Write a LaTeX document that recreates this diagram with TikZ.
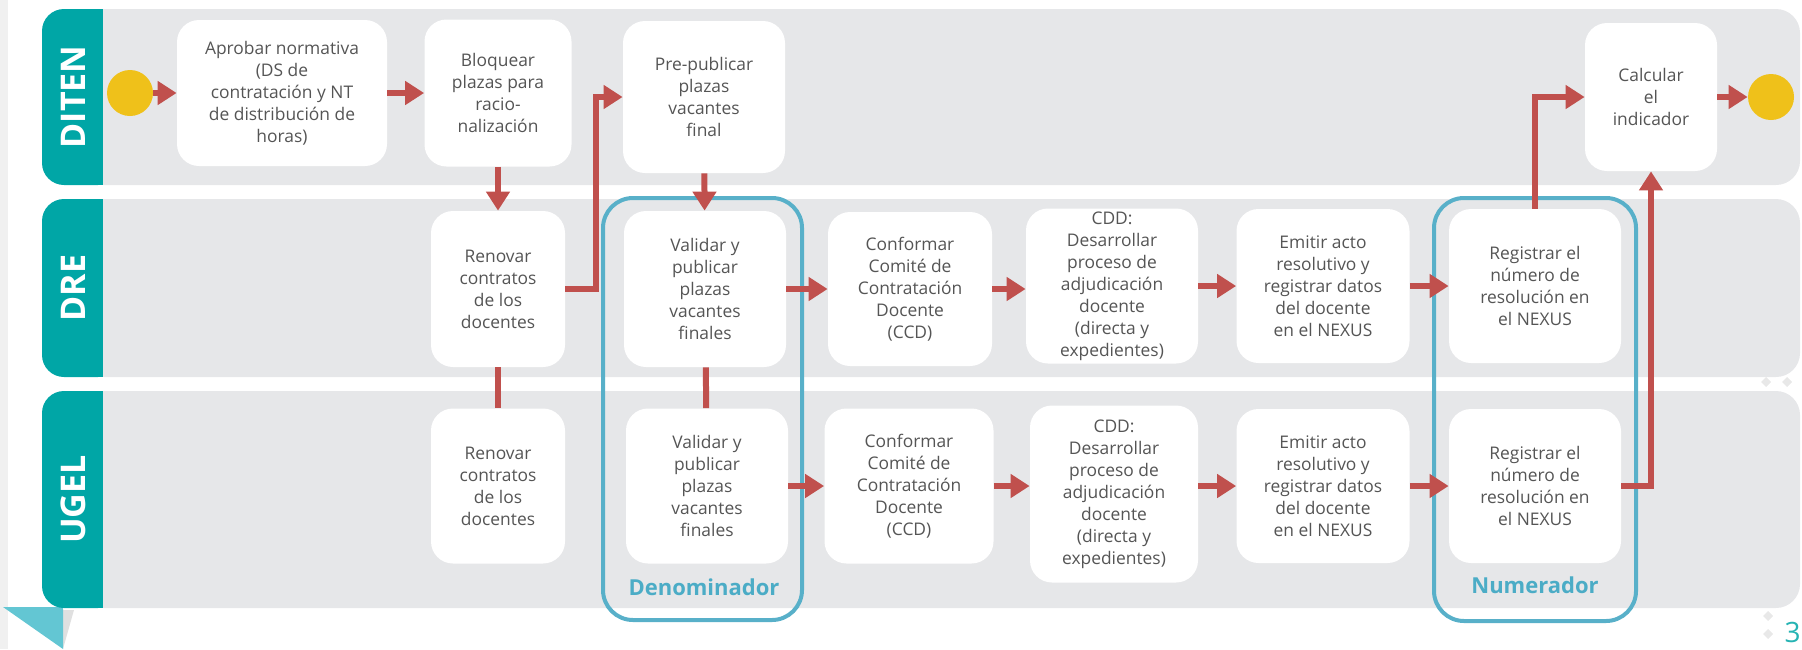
\documentclass[tikz,border=0pt]{standalone}
\usepackage{fontspec}
\setmainfont{Open Sans}
\usetikzlibrary{arrows.meta}

\definecolor{laneteal}{HTML}{00A6A6}
\definecolor{lanegray}{HTML}{E6E7E9}
\definecolor{flowred}{HTML}{C0504D}
\definecolor{frameblue}{HTML}{58B0C9}
\definecolor{labelblue}{HTML}{4BACC6}
\definecolor{textgray}{HTML}{555555}
\definecolor{eventyellow}{HTML}{EFC11A}
\definecolor{foldteal}{HTML}{63C6D3}

\begin{document}
\begin{tikzpicture}[x=0.5pt, y=-0.5pt,
    task/.style={fill=white, rounded corners=11pt, align=center, inner sep=0pt,
        text=textgray, font=\fontsize{8.7}{11}\selectfont},
    event/.style={circle, fill=eventyellow, minimum size=23pt, inner sep=0pt},
    flow/.style={draw=flowred, line width=3pt, -{Triangle[length=9.5pt,width=11.5pt]}},
    link/.style={draw=flowred, line width=3pt},
    frame/.style={draw=frameblue, line width=2pt, rounded corners=15pt},
    framelabel/.style={text=labelblue, font=\bfseries\fontsize{11}{13}\selectfont},
    lanelabel/.style={rotate=90, text=white, font=\bfseries\fontsize{17}{20}\selectfont}]
    \useasboundingbox (0,0) rectangle (1802,649);
    \fill[black!6] (0,0) rectangle (8,649);
    \fill[black!12] (63,610) -- (74,610) -- (63,649) -- cycle;
    \fill[foldteal] (3,607) -- (63,607) -- (63,649) -- cycle;
    % lanes
    \foreach \name/\top/\bot in {DITEN/9/185, DRE/199/377, UGEL/391/608} {
        \fill[lanegray, rounded corners=12pt] (80,\top) rectangle (1800,\bot);
        \fill[laneteal, rounded corners=11pt] (42,\top) rectangle (120,\bot);
        \fill[laneteal] (90,\top) rectangle (103,\bot);
        \fill[lanegray] (103,\top) rectangle (125,\bot);
        \node[lanelabel] (lane\name) at ({73},{(\top+\bot)/2}) {\name};
    }
    \foreach \sx/\sy in {1766/382, 1787/382, 1768/616, 1768/634}
        \fill[black!9] (\sx-5,\sy) -- (\sx,\sy-5) -- (\sx+5,\sy) -- (\sx,\sy+5) -- cycle;
    \node[anchor=east, inner sep=0pt, text=laneteal!85, font=\fontsize{14}{16}\selectfont] (pagina) at (1801,632) {3};

    % DITEN
    \node[event] (inicio) at (130,93) {};
    \node[task, minimum width=105pt, minimum height=73pt] (aprobar) at (282,93)
        {Aprobar normativa\\(DS de\\contratación y NT\\de distribución de\\horas)};
    \node[task, minimum width=73.5pt, minimum height=73.5pt] (bloquear) at (498,93)
        {Bloquear\\plazas para\\racio-\\nalización};
    \node[task, minimum width=81pt, minimum height=76pt] (prepub) at (704,97)
        {Pre-publicar\\plazas\\vacantes\\final};
    \node[task, minimum width=66pt, minimum height=74pt] (calcular) at (1651,97)
        {Calcular\\el\\indicador};
    \node[event] (fin) at (1771,97) {};

    % DRE
    \node[task, minimum width=67pt, minimum height=78pt] (renD) at (498,289)
        {Renovar\\contratos\\de los\\docentes};
    \node[task, minimum width=81pt, minimum height=78pt] (valD) at (705,289)
        {Validar y\\publicar\\plazas\\vacantes\\finales};
    \node[task, minimum width=82pt, minimum height=77pt] (confD) at (910,289)
        {Conformar\\Comité de\\Contratación\\Docente\\(CCD)};
    \node[task, minimum width=86pt, minimum height=77.5pt] (cddD) at (1112,286)
        {CDD:\\Desarrollar\\proceso de\\adjudicación\\docente\\(directa y\\expedientes)};
    \node[task, minimum width=86.5pt, minimum height=77pt] (emiD) at (1323,286)
        {Emitir acto\\resolutivo y\\registrar datos\\del docente\\en el NEXUS};
    \node[task, minimum width=86pt, minimum height=77pt] (regD) at (1535,286)
        {Registrar el\\número de\\resolución en\\el NEXUS};

    % UGEL
    \node[task, minimum width=67pt, minimum height=77.5pt] (renU) at (498,486)
        {Renovar\\contratos\\de los\\docentes};
    \node[task, minimum width=81pt, minimum height=77.5pt] (valU) at (707,486)
        {Validar y\\publicar\\plazas\\vacantes\\finales};
    \node[task, minimum width=84.5pt, minimum height=77.5pt] (confU) at (909,486)
        {Conformar\\Comité de\\Contratación\\Docente\\(CCD)};
    \node[task, minimum width=84pt, minimum height=88.5pt] (cddU) at (1114,494)
        {CDD:\\Desarrollar\\proceso de\\adjudicación\\docente\\(directa y\\expedientes)};
    \node[task, minimum width=86.5pt, minimum height=77pt] (emiU) at (1323,486)
        {Emitir acto\\resolutivo y\\registrar datos\\del docente\\en el NEXUS};
    \node[task, minimum width=86pt, minimum height=77pt] (regU) at (1535,486)
        {Registrar el\\número de\\resolución en\\el NEXUS};

    % indicator frames
    \draw[frame] (603,198) rectangle (802,620);
    \node[framelabel] (denominador) at (704,587) {Denominador};
    \draw[frame] (1434,198) rectangle (1636,621);
    \node[framelabel] (numerador) at (1535,585) {Numerador};

    % flows
    \draw[flow] (inicio) -- (aprobar);
    \draw[flow] (aprobar) -- (bloquear);
    \draw[flow] (bloquear) -- (renD);
    \draw[flow] (renD.east) -- ++(31,0) |- (prepub.west);
    \draw[flow] (prepub) -- (valD);
    \draw[link] (renD) -- (renU);
    \draw[link] (valD) -- (valU);
    \draw[flow] (valD) -- (confD);
    \draw[flow] (confD.east) -- (confD.east -| cddD.west);
    \draw[flow] (cddD) -- (emiD);
    \draw[flow] (emiD) -- (regD);
    \draw[flow] (valU) -- (confU);
    \draw[flow] (confU.east) -- (confU.east -| cddU.west);
    \draw[flow] (cddU.east |- emiU.west) -- (emiU.west);
    \draw[flow] (emiU) -- (regU);
    \draw[flow] (regD.north) |- (calcular.west);
    \draw[flow] (regU.east) -| (calcular.south);
    \draw[flow] (calcular) -- (fin);
\end{tikzpicture}
\end{document}
